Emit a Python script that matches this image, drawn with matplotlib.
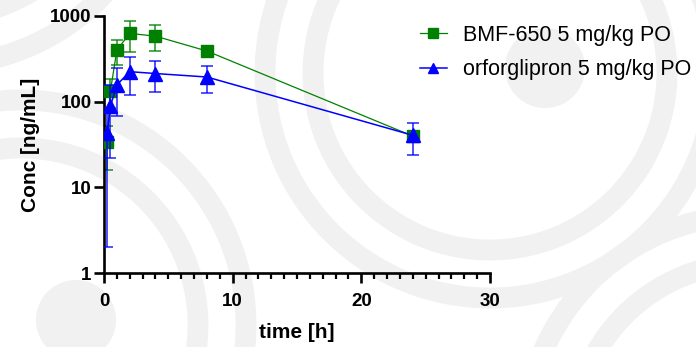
import matplotlib
matplotlib.use("Agg")
import matplotlib.pyplot as plt
from matplotlib.patches import Circle
from matplotlib.ticker import FixedLocator, MultipleLocator, NullLocator

plt.rcParams['font.family'] = ['Liberation Sans', 'DejaVu Sans']

# Data (mean +/- SD)
time_h = [0.25, 0.5, 1, 2, 4, 8, 24]
bmf_mean = [34, 134, 400, 626, 582, 390, 39.6]
bmf_sd = [18, 49, 130, 245, 195, 55, 5]
orf_mean = [43, 89, 157, 224, 213, 194, 40.5]
orf_sd = [41, 67, 89, 105, 85, 68, 16.5]

labels = ['BMF-650 5 mg/kg PO', 'orforglipron 5 mg/kg PO']
y_ticks = [1, 10, 100, 1000]
x_ticks = [0, 10, 20, 30]

GREEN = '#008000'
BLUE = '#0000ff'
WM = '#f1f1f1'

fig = plt.figure(figsize=(6.96, 3.47), dpi=100)

# faint background watermark (figure pixel coords)
bg = fig.add_axes([0, 0, 1, 1], zorder=-1)
bg.set_xlim(0, 696)
bg.set_ylim(347, 0)
bg.axis('off')
for (cx, cy), (dx, dy) in [((490, 73), (545, 68)), ((21, 325), (76, 320)),
                           ((750, 440), (805, 435)), ((-60, -160), (-5, -165))]:
    bg.add_patch(Circle((dx, dy), 40, color=WM, lw=0))
    for r in (177, 225):
        bg.add_patch(Circle((cx, cy), r, fill=False, ec=WM, lw=15))

ax = fig.add_axes([104 / 696, 1 - 273 / 347, (490 - 104) / 696, (273 - 16) / 347])
ax.patch.set_alpha(0)

ax.errorbar(time_h, bmf_mean, yerr=bmf_sd, fmt='none', ecolor=GREEN, alpha=0.8,
            elinewidth=1.2, capsize=4, capthick=1.2, zorder=2)
l1, = ax.plot(time_h, bmf_mean, color=GREEN, lw=0.9, marker='s', ms=9,
              mec=GREEN, mfc=GREEN, zorder=3)
ax.errorbar(time_h, orf_mean, yerr=orf_sd, fmt='none', ecolor=BLUE, alpha=0.8,
            elinewidth=1.2, capsize=4, capthick=1.2, zorder=4)
l2, = ax.plot(time_h, orf_mean, color=BLUE, lw=1.1, marker='^', ms=10,
              mec=BLUE, mfc=BLUE, zorder=5)

ax.set_yscale('log')
ax.set_ylim(1, 1000)
ax.set_xlim(0, 30)
ax.yaxis.set_major_locator(FixedLocator(y_ticks))
ax.yaxis.set_minor_locator(NullLocator())
ax.set_yticklabels([str(v) for v in y_ticks])
ax.xaxis.set_major_locator(FixedLocator(x_ticks))
ax.xaxis.set_minor_locator(MultipleLocator(1))

for side in ('top', 'right'):
    ax.spines[side].set_visible(False)
for side in ('left', 'bottom'):
    ax.spines[side].set_linewidth(1.9)

ax.tick_params(which='major', length=7, width=1.9, labelsize=13.5)
ax.tick_params(axis='y', pad=2)
ax.tick_params(axis='x', pad=7.5)
ax.tick_params(axis='x', which='minor', length=4.3, width=1.6)
for lab in ax.get_xticklabels() + ax.get_yticklabels():
    lab.set_fontweight('bold')

ax.set_ylabel('Conc [ng/mL]', fontsize=15, fontweight='bold', labelpad=7)
ax.set_xlabel('time [h]', fontsize=15, fontweight='bold', labelpad=9)

fig.legend([l1, l2], labels, loc='upper left', bbox_to_anchor=(420 / 696, 1 - 25 / 347),
           frameon=False, fontsize=15.5, borderpad=0, borderaxespad=0,
           handlelength=1.25, handletextpad=0.75, labelspacing=0.62, markerscale=0.75)

fig.savefig('out.png', dpi=100, facecolor='white')
